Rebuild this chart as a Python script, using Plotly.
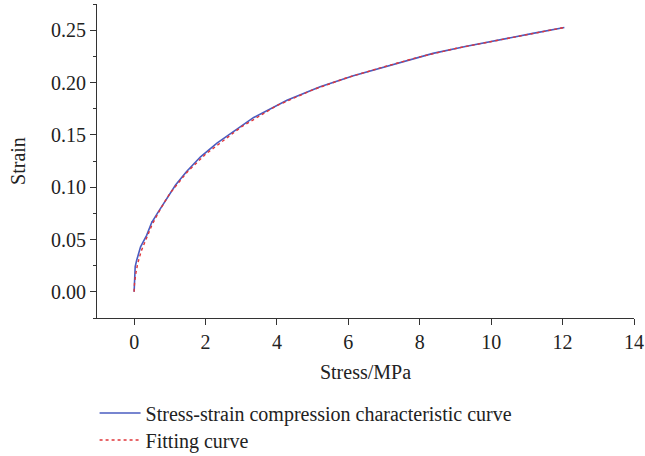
import plotly.graph_objects as go

# Measured stress-strain compression characteristic curve
stress_measured = [0, 0.01, 0.03, 0.07, 0.18, 0.35, 0.46, 0.50, 0.49, 0.65, 0.88, 1.16, 1.47,
                   1.86, 2.32, 2.88, 3.35, 4.28, 5.21, 6.14, 7.07, 8.0, 8.37, 9.31, 10.24, 11.17, 12.05]
strain_measured = [0, 0.0176, 0.024, 0.030, 0.043, 0.054, 0.063, 0.067, 0.066, 0.075, 0.0876, 0.102, 0.115,
                   0.129, 0.142, 0.155, 0.1666, 0.183, 0.196, 0.2064, 0.2156, 0.2245, 0.2278, 0.2347, 0.2405, 0.2469, 0.2526]

# Fitting curve
stress_fit = [0, 0.01, 0.05, 0.1, 0.2, 0.35, 0.5, 0.75, 1, 1.5, 2, 3, 4, 5, 6, 7, 8, 9, 10, 11, 12.05]
strain_fit = [0, 0.008, 0.018, 0.027, 0.039, 0.052, 0.064, 0.080, 0.094, 0.115, 0.1315, 0.1575, 0.178, 0.193,
              0.205, 0.215, 0.2245, 0.2325, 0.239, 0.2457, 0.2526]

x_ticks = [0, 2, 4, 6, 8, 10, 12, 14]
y_ticks = [0.00, 0.05, 0.10, 0.15, 0.20, 0.25]

FONT = "Liberation Serif"
FS = 20

fig = go.Figure()
fig.add_trace(go.Scatter(x=stress_measured, y=strain_measured, mode="lines",
                         name="Stress-strain compression characteristic curve",
                         line=dict(color="#4a5cc0", width=1.6), legend="legend"))
fig.add_trace(go.Scatter(x=stress_fit, y=strain_fit, mode="lines",
                         name="Fitting curve",
                         line=dict(color="#e0363a", width=1.4, dash="3px,3px"), legend="legend2"))

axis_common = dict(showgrid=False, zeroline=False, showline=True, linecolor="#333333", linewidth=1.2,
                   ticks="outside", tickcolor="#333333", ticklen=6, tickwidth=1.2,
                   tickfont=dict(family=FONT, size=FS, color="#222222"))

fig.update_xaxes(range=[-1.04, 14], tickvals=x_ticks, ticktext=[str(v) for v in x_ticks],
                 title=dict(text="Stress/MPa", font=dict(family=FONT, size=FS, color="#222222"), standoff=12),
                 **axis_common)
fig.update_yaxes(range=[-0.025, 0.275], tickvals=y_ticks, ticktext=[f"{v:.2f}" for v in y_ticks],
                 minor=dict(dtick=0.025, tick0=0, ticks="outside", ticklen=3, tickcolor="#333333", tickwidth=1),
                 title=dict(text="Strain", font=dict(family=FONT, size=FS, color="#222222"), standoff=19),
                 **axis_common)

legend_common = dict(x=-0.0045, xanchor="left", yanchor="middle", orientation="v",
                     font=dict(family=FONT, size=FS, color="#222222"),
                     bgcolor="rgba(0,0,0,0)", itemwidth=41)

fig.update_layout(
    width=645, height=456,
    margin=dict(l=97, r=11, t=4, b=138, autoexpand=False),
    paper_bgcolor="white", plot_bgcolor="white",
    showlegend=True,
    legend=dict(y=-0.3025, **legend_common),
    legend2=dict(y=-0.3885, **legend_common),
)

fig.write_html("out.html")
